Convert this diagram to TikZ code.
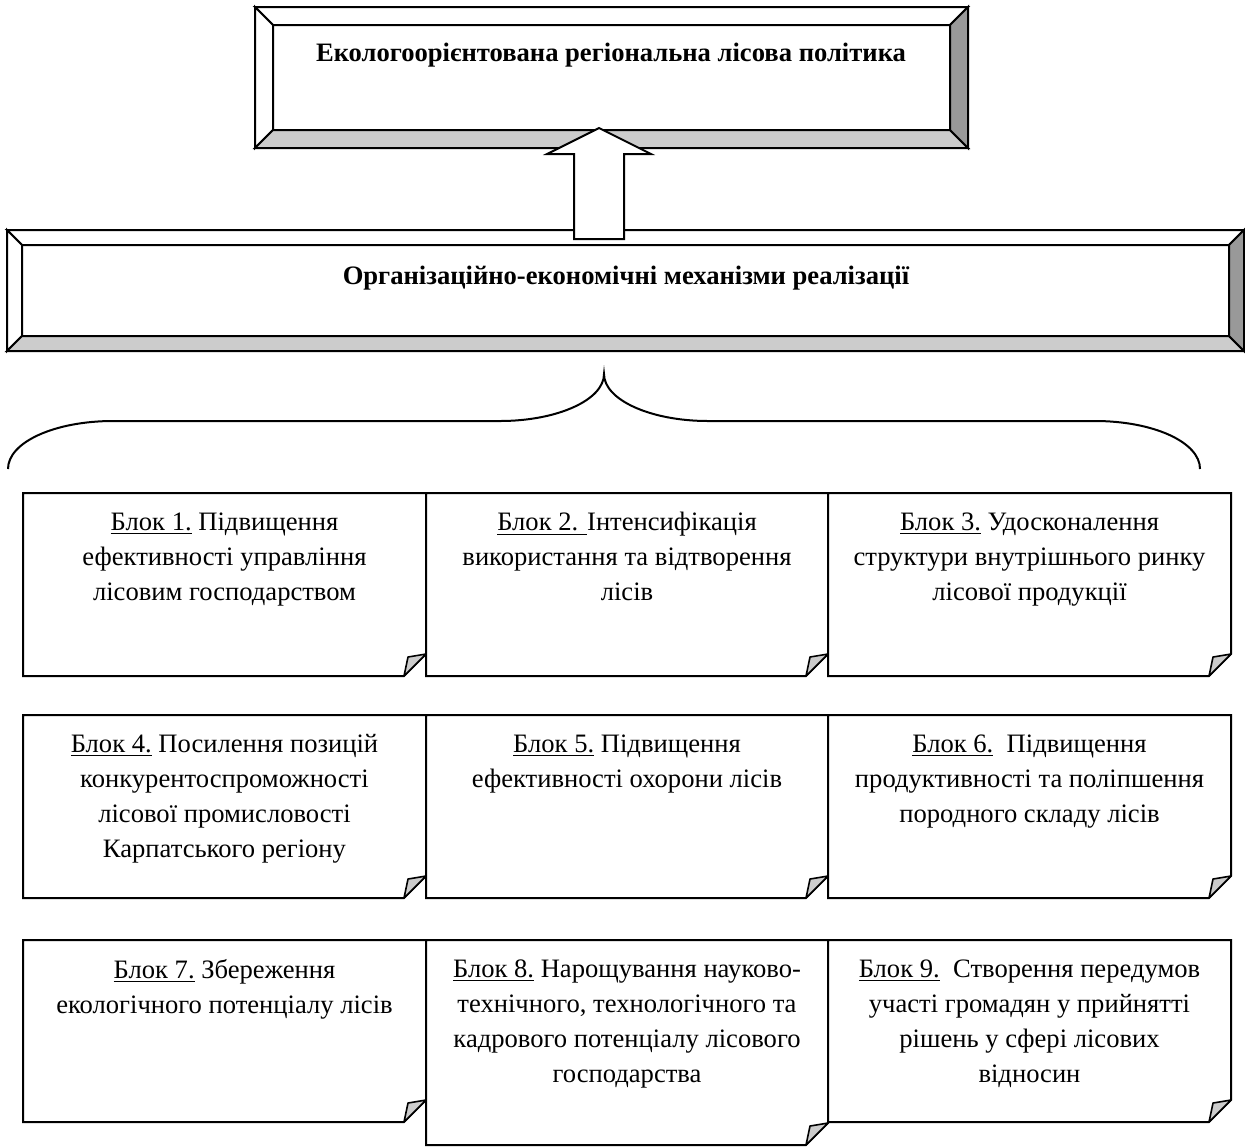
\documentclass[tikz,border=0pt]{standalone}
\usepackage{fontspec}
\setmainfont{Liberation Serif}
\usetikzlibrary{calc}

\definecolor{bevellight}{HTML}{CCCCCC}
\definecolor{beveldark}{HTML}{999999}

% bevelled frame: x1, y1, x2, y2, bevel
\newcommand{\bevelframe}[5]{%
  \filldraw[frame,fill=white] (#1,#2) -- (#3,#2) -- (#3-#5,#2+#5) -- (#1+#5,#2+#5) -- cycle;
  \filldraw[frame,fill=white] (#1,#2) -- (#1+#5,#2+#5) -- (#1+#5,#4-#5) -- (#1,#4) -- cycle;
  \filldraw[frame,fill=bevellight] (#1,#4) -- (#1+#5,#4-#5) -- (#3-#5,#4-#5) -- (#3,#4) -- cycle;
  \filldraw[frame,fill=beveldark] (#3,#2) -- (#3,#4) -- (#3-#5,#4-#5) -- (#3-#5,#2+#5) -- cycle;
}

% note block with folded corner: name, x1, y1, x2, y2, text
\newcommand{\blocknote}[6]{%
  \filldraw[blockline] (#2,#3) -- (#4,#3) -- (#4,#5-22) -- (#4-22,#5) -- (#2,#5) -- cycle;
  \filldraw[fold] (#4-22,#5) -- (#4-18,#5-19) -- (#4,#5-22) -- cycle;
  \node[blocktext] (#1) at ({(#2+#4)/2},#3+19) {#6};
}

\begin{document}
\begin{tikzpicture}[x=0.5pt,y=-0.5pt,
    frame/.style={line width=1pt,line join=miter},
    title/.style={font=\fontsize{13.3pt}{17.5pt}\selectfont\bfseries,inner sep=0pt,anchor=base},
    blockline/.style={line width=1pt,fill=white},
    blocktext/.style={font=\fontsize{13.3pt}{17.5pt}\selectfont,align=center,inner sep=0pt,anchor=north},
    fold/.style={line width=0.8pt,fill=bevellight,line join=round},
    blockarrow/.style={line width=1pt,fill=white,line join=miter}]
  \useasboundingbox (0,0) rectangle (1245,1147);

  % top frames
  \bevelframe{255}{7}{968}{148}{18}
  \node[title] (policy) at (611,61) {Екологоорієнтована регіональна лісова політика};
  \bevelframe{7}{230}{1244}{351}{15}
  \node[title] (mech) at (626,284) {Організаційно-економічні механізми реалізації};

  % block arrow
  \coordinate (arrfoot) at (599,239);
  \coordinate (arrtip) at (599,128);
  \draw[blockarrow] (arrfoot) ++(-25,0) -- ++(0,-85) -- ++(-27,0) -- (arrtip)
    -- ++(52,26) -- ++(-27,0) -- ++(0,85) -- cycle;

  % brace
  \coordinate (braceL) at (8,469);
  \coordinate (bracetip) at (604,374);
  \coordinate (braceR) at (1200,469);
  \draw[line width=1pt] (braceL) .. controls (8,442) and (55,421) .. (113,421) -- (500,421)
    .. controls (557,421) and (604,400) .. (bracetip)
    .. controls (604,400) and (651,421) .. (708,421) -- (1095,421)
    .. controls (1153,421) and (1200,442) .. (braceR);

  % blocks
  \blocknote{b1}{23}{493}{426}{676}{\underline{Блок 1.} Підвищення\\ефективності управління\\лісовим господарством}
  \blocknote{b2}{426}{493}{828}{676}{\underline{Блок 2. }Інтенсифікація\\використання та відтворення\\лісів}
  \blocknote{b3}{828}{493}{1231}{676}{\underline{Блок 3.} Удосконалення\\структури внутрішнього ринку\\лісової продукції}

  \blocknote{b4}{23}{715}{426}{898}{\underline{Блок 4.} Посилення позицій\\конкурентоспроможності\\лісової промисловості\\Карпатського регіону}
  \blocknote{b5}{426}{715}{828}{898}{\underline{Блок 5.} Підвищення\\ефективності охорони лісів}
  \blocknote{b6}{828}{715}{1231}{898}{\underline{Блок 6.}\ \ Підвищення\\продуктивності та поліпшення\\породного складу лісів}

  \blocknote{b7}{23}{940}{426}{1122}{\underline{Блок 7.} Збереження\\екологічного потенціалу лісів}
  \blocknote{b8}{426}{940}{828}{1145}{\underline{Блок 8.} Нарощування науково-\\технічного, технологічного та\\кадрового потенціалу лісового\\господарства}
  \blocknote{b9}{828}{940}{1231}{1122}{\underline{Блок 9.}\ \ Створення передумов\\участі громадян у прийнятті\\рішень у сфері лісових\\відносин}
\end{tikzpicture}
\end{document}
